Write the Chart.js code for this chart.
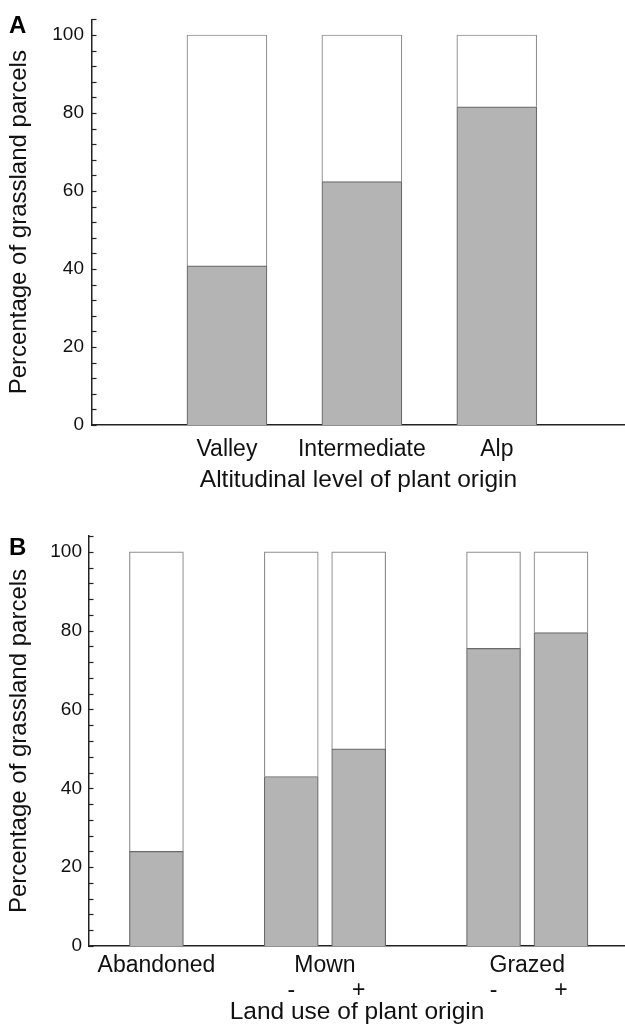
<!DOCTYPE html>
<html lang="en">
<head>
<meta charset="UTF-8">
<title>Percentage of grassland parcels</title>
<script src="https://cdn.jsdelivr.net/npm/chart.js"></script>
<style>
  body { margin: 0; background: #fff; width: 625px; overflow: hidden; }
  canvas { display: block; }
</style>
</head>
<body>
<canvas id="chartA" width="625" height="505"></canvas>
<canvas id="chartB" width="625" height="525"></canvas>
<script>
// panel A: altitudinal level of plant origin
const levelNames = ['Valley', 'Intermediate', 'Alp'];
const levelPos = [1, 2, 3];
const levelValues = [40.8, 62.4, 81.6];

// panel B: land use of plant origin
const landBarPos = [1, 3, 4, 6, 7];
const landValues = [24, 43, 50, 75.5, 79.5];
const landGroups = ['Abandoned', 'Mown', 'Grazed'];
const landGroupPos = [1, 3.5, 6.5];
const landSubs = ['-', '+', '-', '+'];
const landSubPos = [3, 4, 6, 7];

const total = 100;
const yLabelled = [0, 20, 40, 60, 80, 100];

const FONT = "'Liberation Sans', Arial, Helvetica, sans-serif";
const INK = '#111';
Chart.defaults.font.family = FONT;
Chart.defaults.color = INK;

// small ticks pointing into the plot, like the original figure
const innerTicks = {
    id: 'innerTicks',
    afterDraw(chart) {
        const s = chart.scales.y;
        const ctx = chart.ctx;
        ctx.save();
        ctx.strokeStyle = '#222';
        ctx.lineWidth = 1.2;
        s.ticks.forEach(t => {
            const y = Math.round(s.getPixelForValue(t.value)) + 0.5;
            ctx.beginPath();
            ctx.moveTo(s.right, y);
            ctx.lineTo(s.right + 4.5, y);
            ctx.stroke();
        });
        ctx.restore();
    }
};

const panelLetter = {
    id: 'panelLetter',
    afterDraw(chart, args, o) {
        const ctx = chart.ctx;
        ctx.save();
        ctx.font = 'bold 24px ' + FONT;
        ctx.fillStyle = '#000';
        ctx.textBaseline = 'alphabetic';
        ctx.fillText(o.text, o.x, o.y);
        ctx.restore();
    }
};

function barChart(id, c) {
    return new Chart(document.getElementById(id), {
        type: 'bar',
        data: {
            datasets: [
                {
                    label: 'share',
                    data: c.pos.map((x, i) => ({ x: x, y: c.values[i] })),
                    backgroundColor: '#b4b4b4',
                    borderColor: '#6a6a6a',
                    borderWidth: 1.2,
                    barThickness: c.barWidth
                },
                {
                    label: 'rest',
                    data: c.pos.map((x, i) => ({ x: x, y: total - c.values[i] })),
                    backgroundColor: '#ffffff',
                    borderColor: '#8f8f8f',
                    borderWidth: 1.2,
                    barThickness: c.barWidth
                }
            ]
        },
        options: {
            responsive: false,
            animation: false,
            layout: { padding: { top: c.padTop, left: 0, right: 0, bottom: 0 } },
            plugins: {
                legend: { display: false },
                tooltip: { enabled: false },
                panelLetter: { text: c.letter, x: 9, y: c.letterY }
            },
            scales: {
                x: {
                    type: 'linear',
                    stacked: true,
                    offset: false,
                    min: 0,
                    max: c.xMax,
                    grid: { display: false, drawTicks: false, offset: false },
                    border: { display: true, color: '#222', width: 1.5 },
                    afterBuildTicks: s => { s.ticks = c.tickPos.map(v => ({ value: v })); },
                    afterFit: s => { s.height = c.xHeight; },
                    ticks: {
                        autoSkip: false,
                        maxRotation: 0,
                        minRotation: 0,
                        padding: c.tickPad,
                        color: INK,
                        font: { size: 23, lineHeight: 1.1 },
                        callback: (v, i) => c.tickLabels[i]
                    },
                    title: {
                        display: true,
                        text: c.xTitle,
                        color: INK,
                        font: { size: 24.5 },
                        padding: { top: 0, bottom: c.titlePad }
                    }
                },
                y: {
                    stacked: true,
                    min: 0,
                    max: 104,
                    grid: { display: false, drawTicks: false },
                    border: { display: true, color: '#222', width: 1.5 },
                    afterFit: s => { s.width = c.yWidth; },
                    ticks: {
                        stepSize: 4,
                        autoSkip: false,
                        padding: c.yPad,
                        color: INK,
                        font: { size: 19 },
                        callback: v => yLabelled.includes(v) ? v : ''
                    },
                    title: {
                        display: true,
                        text: 'Percentage of grassland parcels',
                        color: INK,
                        font: { size: 24 },
                        padding: { top: 5, bottom: 0 }
                    }
                }
            }
        },
        plugins: [innerTicks, panelLetter]
    });
}

// tick list for B: group names on the first line, +/- on the second
const landTicks = landGroupPos.map((p, i) => ({ p: p, label: landGroups[i] }))
    .concat(landSubPos.map((p, i) => ({ p: p, label: ['', landSubs[i]] })))
    .sort((a, b) => a.p - b.p);

barChart('chartA', {
    pos: levelPos,
    values: levelValues,
    barWidth: 80,
    letter: 'A',
    letterY: 33,
    padTop: 15,
    xMax: 3.95,
    xHeight: 80,
    tickPos: levelPos,
    tickLabels: levelNames,
    tickPad: 12,
    xTitle: 'Altitudinal level of plant origin',
    titlePad: 10,
    yWidth: 92,
    yPad: 8
});

barChart('chartB', {
    pos: landBarPos,
    values: landValues,
    barWidth: 54,
    letter: 'B',
    letterY: 50,
    padTop: 31,
    xMax: 7.95,
    xHeight: 84,
    tickPos: landTicks.map(t => t.p),
    tickLabels: landTicks.map(t => t.label),
    tickPad: 7,
    xTitle: 'Land use of plant origin',
    titlePad: 3,
    yWidth: 89,
    yPad: 7
});
</script>
</body>
</html>
